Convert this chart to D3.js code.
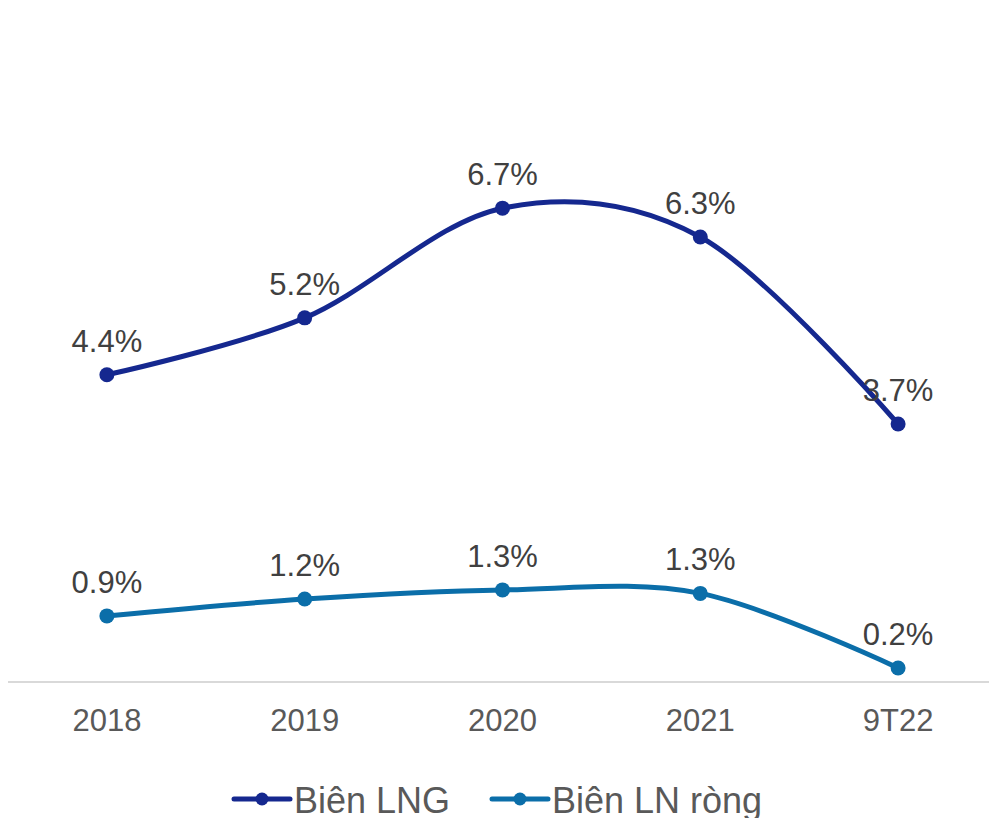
<!DOCTYPE html>
<html>
<head>
<meta charset="utf-8">
<script src="https://cdn.jsdelivr.net/npm/d3@7"></script>
<style>
  body { margin: 0; background: #fff; }
  svg { display: block; font-family: "Liberation Sans", Arial, sans-serif; }
</style>
</head>
<body>
<svg></svg>
<script>
const width = 989;
const height = 818;

const periods = ['2018', '2019', '2020', '2021', '9T22'];
const grossMargin = [4.37, 5.18, 6.74, 6.33, 3.67];
const netMargin = [0.94, 1.18, 1.31, 1.26, 0.2];
const seriesNames = ['Biên LNG', 'Biên LN ròng'];
const seriesColors = ['#15288f', '#0b6ea9'];

const series = [
    { name: seriesNames[0], values: grossMargin, color: seriesColors[0] },
    { name: seriesNames[1], values: netMargin, color: seriesColors[1] }
];

const svg = d3.select('svg')
    .attr('width', width)
    .attr('height', height);

const x = d3.scaleBand()
    .domain(periods)
    .range([8, 997])
    .padding(0);

const y = d3.scaleLinear()
    .domain([0, 8])
    .range([682, 682 - 8 * 70.3]);

const cx = p => x(p) + x.bandwidth() / 2;

// axis baseline
svg.append('line')
    .attr('x1', 8)
    .attr('x2', width)
    .attr('y1', y(0))
    .attr('y2', y(0))
    .attr('stroke', '#d9d9d9')
    .attr('stroke-width', 2);

// category labels
svg.append('g')
    .selectAll('text')
    .data(periods)
    .join('text')
        .attr('x', d => cx(d))
        .attr('y', 731)
        .attr('text-anchor', 'middle')
        .attr('fill', '#595959')
        .style('font-size', '31px')
        .text(d => d);

const line = d3.line()
    .x((d, i) => cx(periods[i]))
    .y(d => y(d))
    .curve(d3.curveCardinal.tension(0));

const groups = svg.selectAll('.series')
    .data(series)
    .join('g')
        .classed('series', true);

groups.append('path')
    .attr('d', d => line(d.values))
    .attr('fill', 'none')
    .attr('stroke', d => d.color)
    .attr('stroke-width', 5)
    .attr('stroke-linecap', 'round');

groups.each(function(s) {
    const g = d3.select(this);
    g.selectAll('circle')
        .data(s.values)
        .join('circle')
            .attr('cx', (d, i) => cx(periods[i]))
            .attr('cy', d => y(d))
            .attr('r', 7.5)
            .attr('fill', s.color);
    g.selectAll('text')
        .data(s.values)
        .join('text')
            .attr('x', (d, i) => cx(periods[i]))
            .attr('y', d => y(d) - 23)
            .attr('text-anchor', 'middle')
            .attr('fill', '#404040')
            .style('font-size', '31px')
            .text(d => d.toFixed(1) + '%');
});

// legend (bottom edge crops it, as in the source image)
const legendX = [234, 492];
const legend = svg.append('g')
    .selectAll('g')
    .data(series)
    .join('g')
        .attr('transform', (d, i) => `translate(${legendX[i]}, 799)`);

legend.append('line')
    .attr('x1', 0)
    .attr('x2', 56)
    .attr('stroke', d => d.color)
    .attr('stroke-width', 5)
    .attr('stroke-linecap', 'round');

legend.append('circle')
    .attr('cx', 28)
    .attr('r', 6.5)
    .attr('fill', d => d.color);

legend.append('text')
    .attr('x', 60)
    .attr('y', 14)
    .attr('fill', '#595959')
    .style('font-size', '36px')
    .text(d => d.name);
</script>
</body>
</html>
